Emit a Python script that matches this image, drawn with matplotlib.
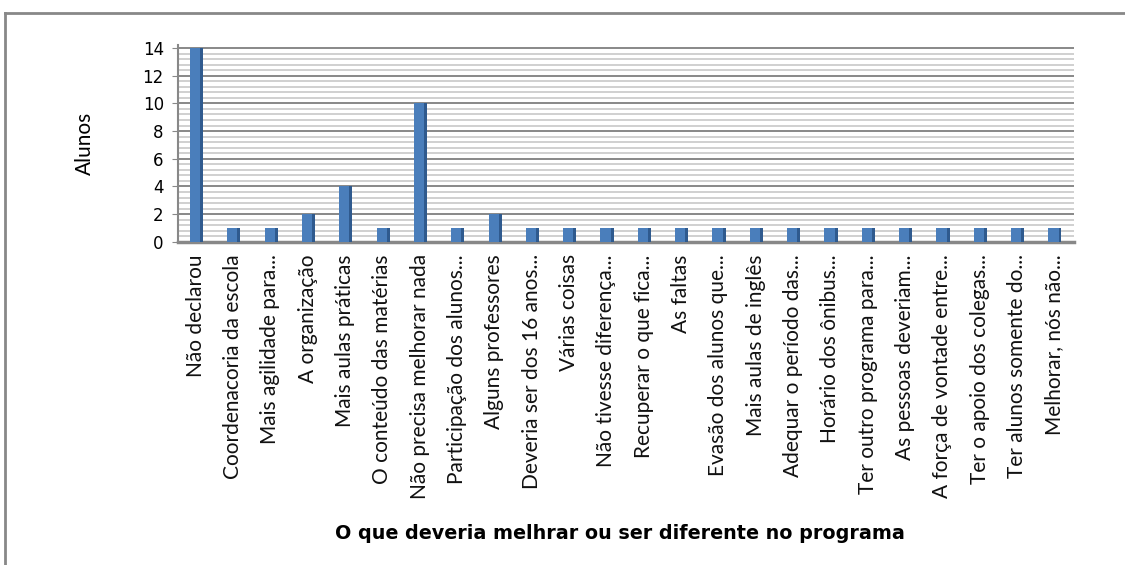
import matplotlib
matplotlib.use("Agg")
import matplotlib.pyplot as plt
from matplotlib.lines import Line2D
import numpy as np

categories = [
    "Não declarou", "Coordenacoria da escola", "Mais agilidade para...",
    "A organização", "Mais aulas práticas", "O conteúdo das matérias",
    "Não precisa melhorar nada", "Participação dos alunos...", "Alguns professores",
    "Deveria ser dos 16 anos...", "Várias coisas", "Não tivesse diferença...",
    "Recuperar o que fica...", "As faltas", "Evasão dos alunos que...",
    "Mais aulas de inglês", "Adequar o período das...", "Horário dos ônibus...",
    "Ter outro programa para...", "As pessoas deveriam...", "A força de vontade entre...",
    "Ter o apoio dos colegas...", "Ter alunos somente do...", "Melhorar, nós não...",
]
values = [14, 1, 1, 2, 4, 1, 10, 1, 2, 1, 1, 1, 1, 1, 1, 1, 1, 1, 1, 1, 1, 1, 1, 1]
yticks = [0, 2, 4, 6, 8, 10, 12, 14]

plt.rcParams['font.family'] = ['Lato', 'DejaVu Sans']

fig = plt.figure(figsize=(11.25, 5.65), dpi=100)
ax = fig.add_axes([0.158, 0.572, 0.797, 0.348])

x = np.arange(len(categories))
w = 0.27
# minor gridlines
for v in np.arange(0, 14.01, 0.4):
    ax.axhline(v, color="#c8c8c8", lw=1.2, zorder=0)
for v in yticks:
    ax.axhline(v, color="#8a8a8a", lw=1.4, zorder=0.5)

ax.bar(x - 0.02, values, width=w, color="#4a7ebb", edgecolor="none", zorder=3)
ax.bar(x - 0.02 + w / 2 + 0.04, values, width=0.08, color="#2f5a8e", edgecolor="none", zorder=3)

ax.set_xlim(-0.48, len(categories) - 1 + 0.54)
ax.set_ylim(0, 14.2)
ax.set_yticks(yticks)
ax.set_yticklabels([str(t) for t in yticks], fontsize=12, family=['DejaVu Sans'])
ax.set_xticks(x)
ax.set_xticklabels(categories, rotation=90, fontsize=15, va='top', ha='center', color="#111111")
ax.tick_params(axis='x', length=0, pad=9)
ax.tick_params(axis='y', length=4, color="#888888", pad=6)
for s in ['top', 'right']:
    ax.spines[s].set_visible(False)
ax.spines['left'].set_color("#888888")
ax.spines['left'].set_linewidth(1.5)
ax.spines['bottom'].set_color("#888888")
ax.spines['bottom'].set_linewidth(2.5)

ax.set_ylabel("Alunos", fontsize=15, labelpad=34)
fig.text(0.551, 0.056, "O que deveria melhrar ou ser diferente no programa",
         fontsize=13.8, fontweight='bold', ha='center', va='center',
         family=['DejaVu Sans'])

# outer frame
fig.add_artist(Line2D([5/1125, 5/1125], [0, 1 - 13/565], color="#888888", lw=2, transform=fig.transFigure))
fig.add_artist(Line2D([5/1125, 1], [1 - 13/565, 1 - 13/565], color="#888888", lw=2, transform=fig.transFigure))

fig.savefig("out.png", dpi=100)
